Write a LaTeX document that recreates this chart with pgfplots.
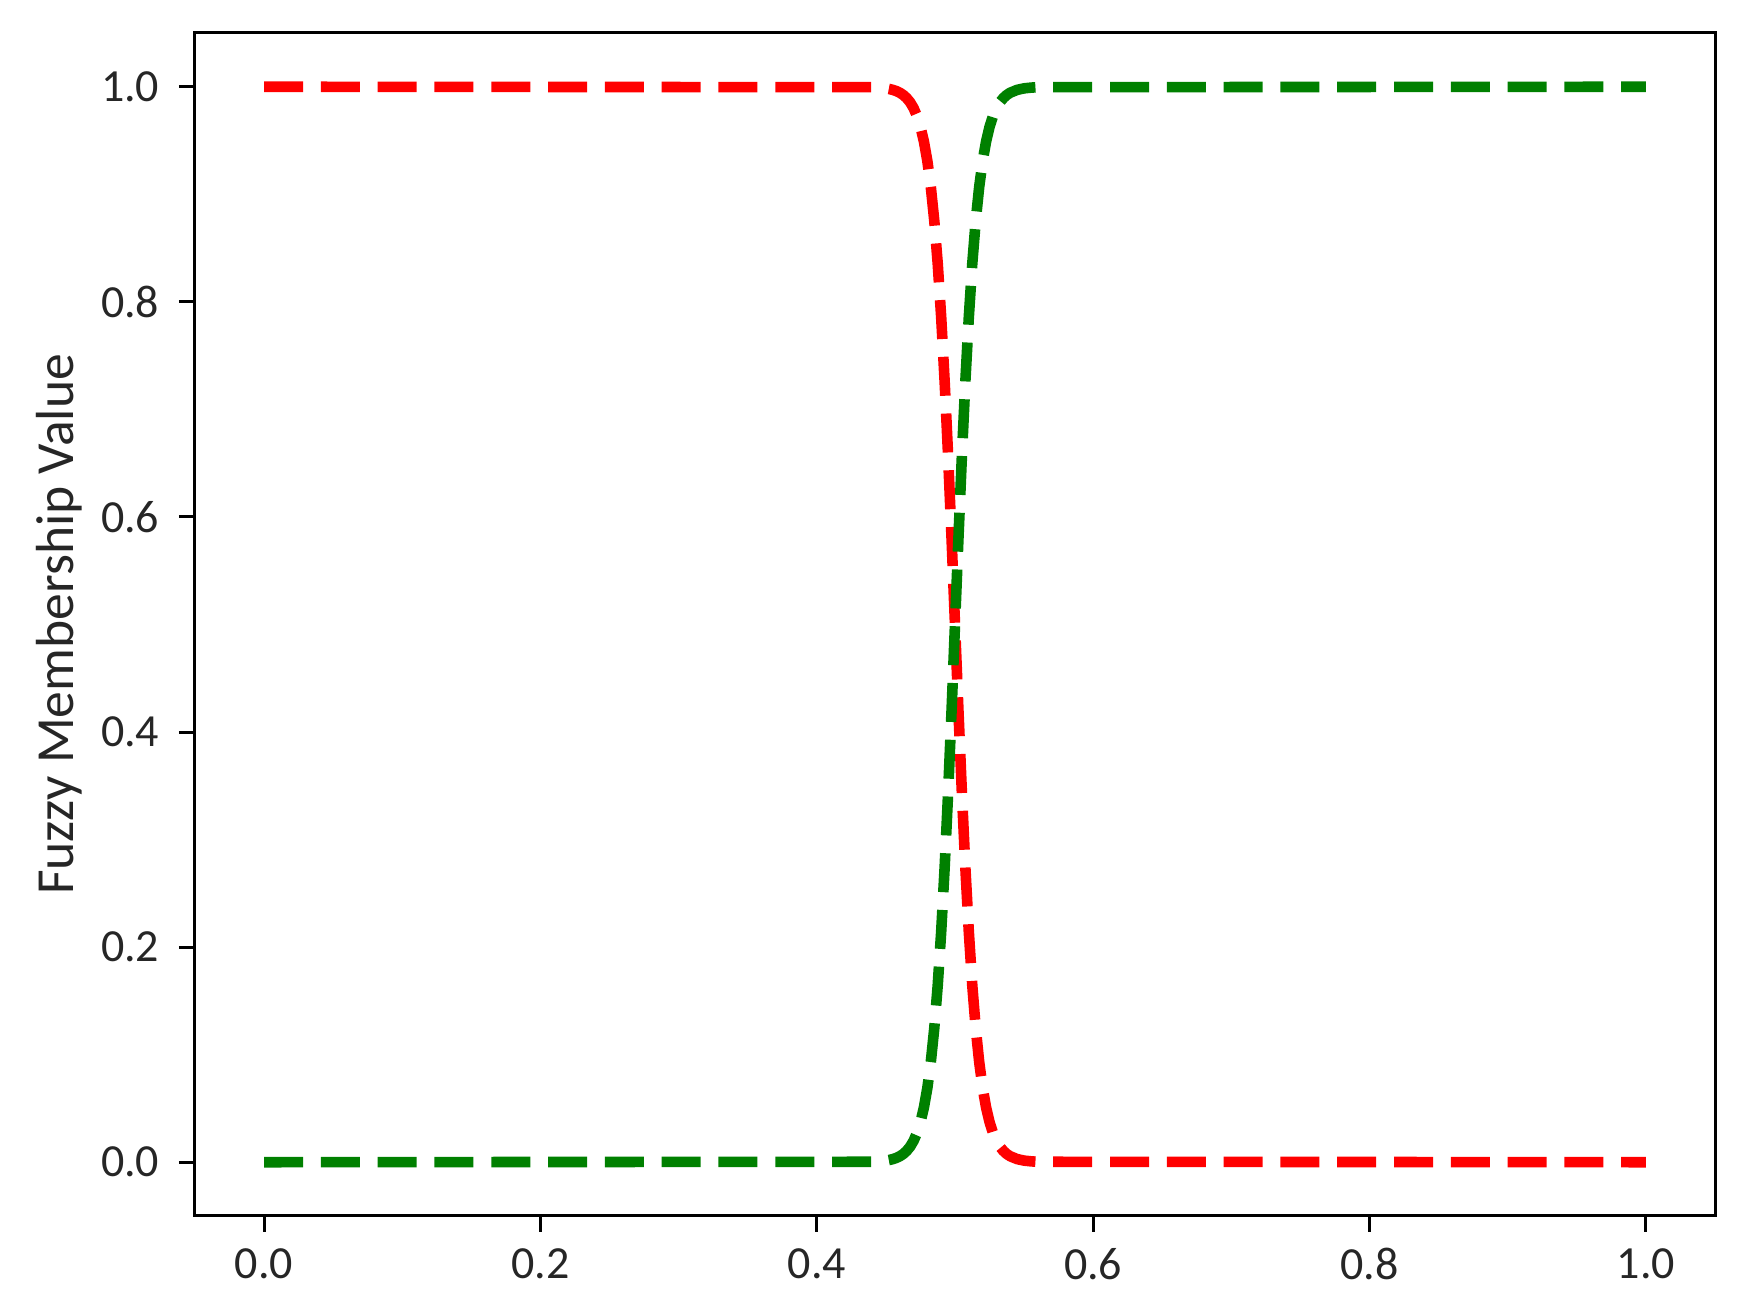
\documentclass[border=0pt]{standalone}
\usepackage{pgfplots}
\usepackage{pgfplotstable}
\pgfplotsset{compat=1.18}
\usepackage{fontspec}
\setmainfont{Carlito}
\definecolor{mplred}{RGB}{255,0,0}
\definecolor{mplgreen}{RGB}{0,128,0}
\pgfplotstableread{
x red green
0.0000 1.0000 0.0000
0.4400 0.9996 0.0004
0.4450 0.9992 0.0008
0.4500 0.9985 0.0015
0.4525 0.9979 0.0021
0.4550 0.9971 0.0029
0.4575 0.9960 0.0040
0.4600 0.9945 0.0055
0.4625 0.9924 0.0076
0.4650 0.9895 0.0105
0.4675 0.9856 0.0144
0.4700 0.9802 0.0198
0.4725 0.9728 0.0272
0.4750 0.9627 0.0373
0.4775 0.9491 0.0509
0.4800 0.9309 0.0691
0.4825 0.9068 0.0932
0.4850 0.8754 0.1246
0.4875 0.8355 0.1645
0.4900 0.7858 0.2142
0.4925 0.7261 0.2739
0.4950 0.6570 0.3430
0.4975 0.5805 0.4195
0.5000 0.5000 0.5000
0.5025 0.4195 0.5805
0.5050 0.3430 0.6570
0.5075 0.2739 0.7261
0.5100 0.2142 0.7858
0.5125 0.1645 0.8355
0.5150 0.1246 0.8754
0.5175 0.0932 0.9068
0.5200 0.0691 0.9309
0.5225 0.0509 0.9491
0.5250 0.0373 0.9627
0.5275 0.0272 0.9728
0.5300 0.0198 0.9802
0.5325 0.0144 0.9856
0.5350 0.0105 0.9895
0.5375 0.0076 0.9924
0.5400 0.0055 0.9945
0.5450 0.0029 0.9971
0.5500 0.0015 0.9985
0.5550 0.0008 0.9992
0.5600 0.0004 0.9996
1.0000 0.0000 1.0000
}\fuzzy
\begin{document}
\begin{tikzpicture}
\useasboundingbox (-48.75pt,-24.75pt) rectangle (388.5pt,304pt);
\begin{axis}[
  at={(0,0)}, anchor=south west,
  scale only axis,
  width=380pt, height=295.75pt,
  xmin=-0.05, xmax=1.05, ymin=-0.05, ymax=1.05,
  xtick={0,0.2,0.4,0.6,0.8,1.0},
  ytick={0,0.2,0.4,0.6,0.8,1.0},
  xtick pos=left, ytick pos=left,
  tick align=outside,
  major tick length=4pt,
  tick style={black, line width=0.75pt},
  axis line style={black, line width=0.75pt},
  /pgf/number format/assume math mode=true,
  /pgf/number format/.cd, fixed, fixed zerofill, precision=1, /pgfplots/.cd,
  every tick label/.append style={font=\fontsize{11.5}{14}\selectfont, text=black!85},
  yticklabel style={xshift=-1.4pt},
  xticklabel style={yshift=-0.6pt},
  ylabel={Fuzzy Membership Value},
  ylabel style={at={(axis description cs:-0.080,0.5)}, anchor=base, font=\fontsize{13.4}{16}\selectfont, text=black!85},
  clip=false,
]
\addplot[mplred, line width=2.65pt, dash pattern=on 9.75pt off 4.45pt, line join=round] table[x=x, y=red] {\fuzzy};
\addplot[mplgreen, line width=2.65pt, dash pattern=on 9.75pt off 4.45pt, line join=round] table[x=x, y=green] {\fuzzy};
\end{axis}
\end{tikzpicture}
\end{document}
